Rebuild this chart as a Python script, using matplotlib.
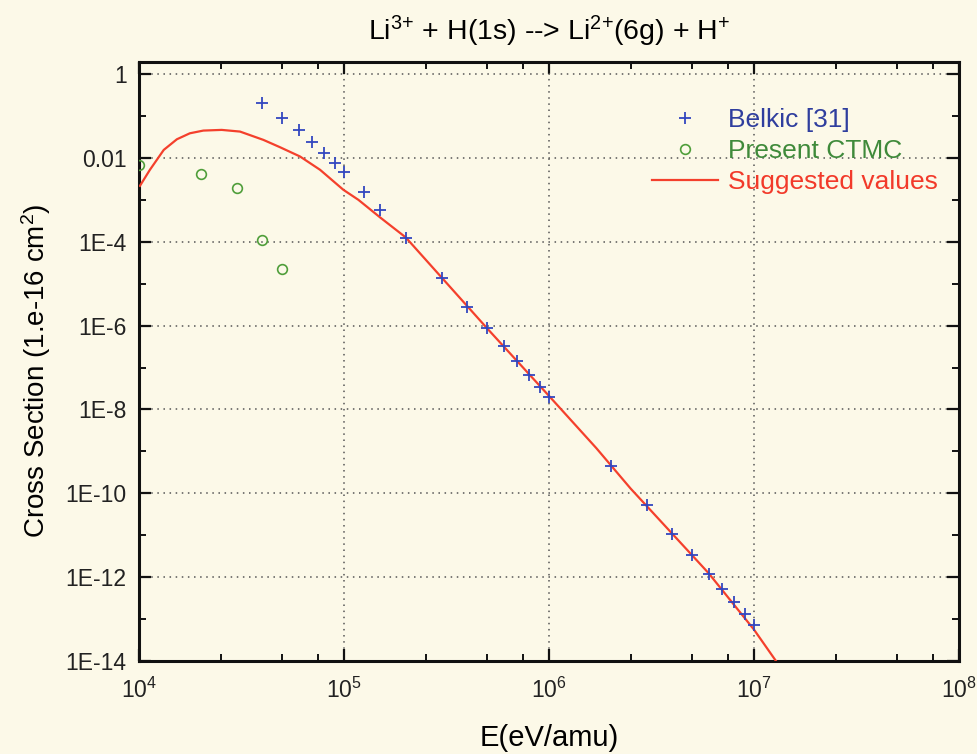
import numpy as np
import matplotlib
matplotlib.use("Agg")
import matplotlib.pyplot as plt
from matplotlib.ticker import FixedLocator, FuncFormatter, NullFormatter

plt.rcParams['font.family'] = ['Liberation Sans', 'DejaVu Sans']
plt.rcParams['mathtext.fontset'] = 'custom'
plt.rcParams['mathtext.rm'] = 'Liberation Sans'
plt.rcParams['mathtext.it'] = 'Liberation Sans:italic'
plt.rcParams['mathtext.bf'] = 'Liberation Sans:bold'

# Belkic [31]  (E in eV/amu, cross section in 1e-16 cm^2)
belkic_E = [4e4, 5e4, 6e4, 7e4, 8e4, 9e4, 1e5, 1.25e5, 1.5e5, 2e5, 3e5, 4e5,
            5e5, 6e5, 7e5, 8e5, 9e5, 1e6, 2e6, 3e6, 4e6, 5e6, 6e6, 7e6, 8e6,
            9e6, 1e7]
belkic_sig = [0.20, 0.089, 0.047, 0.024, 0.013, 0.0076, 0.0047, 1.5e-3, 5.8e-4,
              1.25e-4, 1.4e-5, 2.8e-6, 8.9e-7, 3.3e-7, 1.4e-7, 6.8e-8, 3.5e-8,
              2.0e-8, 4.6e-10, 5.2e-11, 1.05e-11, 3.3e-12, 1.2e-12, 5.2e-13,
              2.5e-13, 1.3e-13, 7.2e-14]

# present CTMC
ctmc_E = [1.0e4, 2.0e4, 3.0e4, 4.0e4, 5.0e4]
ctmc_sig = [6.8e-3, 4.2e-3, 1.9e-3, 1.1e-4, 2.2e-5]

# suggested values
sugg_E = [1.01e4, 1.13e4, 1.32e4, 1.53e4, 1.77e4, 2.06e4, 2.53e4, 3.11e4,
          4.04e4, 4.88e4, 6.10e4, 7.64e4, 9.93e4, 1.175e5, 1.5e5, 2.0e5,
          5.0e5, 1.0e6, 1.7e6, 2.5e6, 6.0e6, 1.0e7, 1.28e7]
sugg_sig = [2.15e-3, 5.2e-3, 1.55e-2, 2.78e-2, 3.86e-2, 4.48e-2, 4.65e-2,
            4.24e-2, 2.69e-2, 1.79e-2, 1.08e-2, 5.2e-3, 1.73e-3, 1.0e-3,
            3.8e-4, 1.27e-4, 8.5e-7, 2.1e-8, 1.2e-9, 1.3e-10, 1.25e-12,
            5.6e-14, 1.0e-14]

ytick_vals = [1, 1e-2, 1e-4, 1e-6, 1e-8, 1e-10, 1e-12, 1e-14]
ytick_labels = ['1', '0.01', '1E-4', '1E-6', '1E-8', '1E-10', '1E-12', '1E-14']

bg = '#fcf9e8'
fig = plt.figure(figsize=(9.77, 7.54), dpi=100, facecolor=bg)
ax = fig.add_axes([0.1423, 0.1233, 0.8393, 0.7944], facecolor=bg)

ax.plot(sugg_E, sugg_sig, color='#f4402c', lw=1.6, label='Suggested values', zorder=3)
ax.plot(belkic_E, belkic_sig, ls='none', marker='+', ms=9, mew=1.3,
        color='#3347c0', label='Belkic [31]', zorder=4)
ax.plot(ctmc_E, ctmc_sig, ls='none', marker='o', ms=7, mew=1.2, mfc='none',
        mec='#4f9e3a', label='Present CTMC', zorder=4)

ax.set_xscale('log')
ax.set_yscale('log')
ax.set_xlim(1e4, 1e8)
ax.set_ylim(1e-14, 1.93)

ax.xaxis.set_major_locator(FixedLocator([1e4, 1e5, 1e6, 1e7, 1e8]))
ax.xaxis.set_major_formatter(FuncFormatter(lambda v, p: r'$10^{%d}$' % round(np.log10(v))))
ax.xaxis.set_minor_locator(FixedLocator([m * 10.0**d for d in range(4, 8) for m in (2.5, 5, 7.5)]))
ax.xaxis.set_minor_formatter(NullFormatter())

ax.yaxis.set_major_locator(FixedLocator(ytick_vals))
ax.set_yticklabels(ytick_labels)
ax.yaxis.set_minor_locator(FixedLocator([10.0**(-k) for k in range(1, 14, 2)]))
ax.yaxis.set_minor_formatter(NullFormatter())

for s in ax.spines.values():
    s.set_linewidth(2.2)
    s.set_color('#111111')
ax.tick_params(which='both', direction='in', top=True, right=True, color='#111111')
ax.tick_params(which='major', length=8.5, width=1.6, labelcolor='#222222')
ax.tick_params(axis='x', which='major', pad=12, labelsize=16.5)
ax.tick_params(axis='y', which='major', pad=9, labelsize=16.5)
ax.tick_params(which='minor', length=5, width=1.4)

ax.grid(True, which='major', color='#555555', lw=1.1, ls=(0, (1, 3)))
ax.set_axisbelow(True)

ax.set_title(r'Li$^{3{+}}$ + H(1s) --> Li$^{2{+}}$(6g) + H$^{+}$', fontsize=20.5, pad=16)
ax.set_xlabel('E(eV/amu)', fontsize=21, labelpad=15)
ax.set_ylabel('Cross Section (1.e-16 cm$^{2}$)', fontsize=20)
ax.yaxis.set_label_coords(-0.105, 0.484)

h, l = ax.get_legend_handles_labels()
order = [1, 2, 0]
leg = ax.legend([h[i] for i in order], [l[i] for i in order], loc='upper left',
                bbox_to_anchor=(0.6673, 0.857), bbox_transform=fig.transFigure,
                frameon=False, fontsize=19, handlelength=2.5, handletextpad=0.38,
                labelspacing=0.27, borderpad=0, borderaxespad=0)
for txt, c in zip(leg.get_texts(), ['#2f3e9e', '#3f8a3a', '#f23a2a']):
    txt.set_color(c)

fig.savefig('out.png', dpi=100, facecolor=bg)
